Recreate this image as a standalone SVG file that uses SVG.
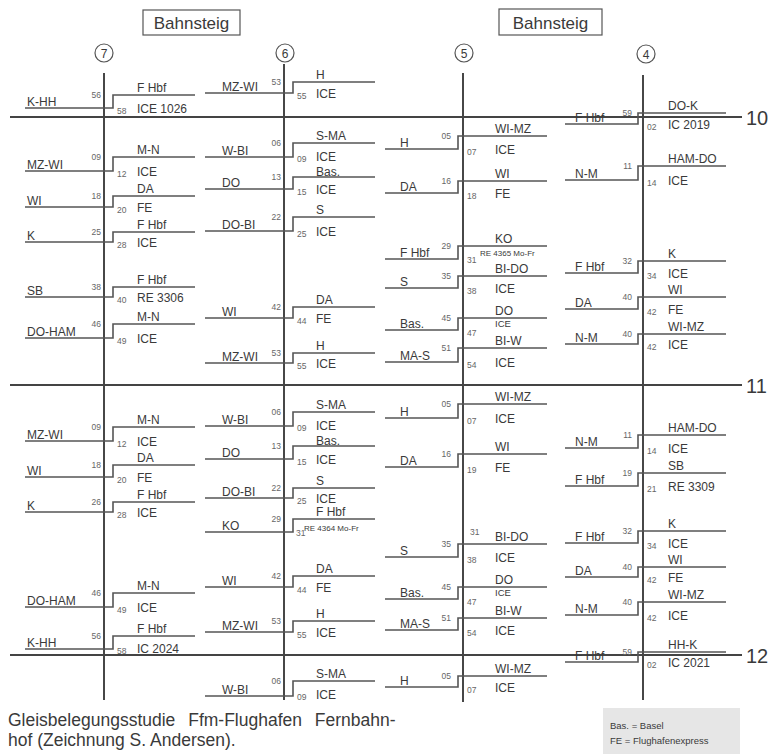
<svg xmlns="http://www.w3.org/2000/svg" width="771" height="756" viewBox="0 0 771 756">
<style>
.bg{fill:#fff}
.ln{fill:none;stroke:#555;stroke-width:1.6}
.tr{fill:none;stroke:#333;stroke-width:1.8}
.hr{fill:none;stroke:#444;stroke-width:2}
text{font-family:"Liberation Sans",Arial,sans-serif;fill:#3a3a3a}
.t{font-size:12px}
.m{font-size:8.5px;fill:#666}
.e{text-anchor:end}
.s{font-size:8px}
.si{font-size:9.5px}
.box{fill:none;stroke:#555;stroke-width:1.2}
.c{text-anchor:middle}
</style>
<rect class="bg" width="771" height="756"/>
<g id="headers">
<rect class="box" x="143" y="10" width="97" height="25"/>
<text x="191.5" y="29" class="c" font-size="17">Bahnsteig</text>
<rect class="box" x="499" y="9" width="103" height="26"/>
<text x="550.5" y="29" class="c" font-size="17">Bahnsteig</text>
</g>
<g id="tracks">
<circle class="box" cx="104" cy="53" r="9"/><text x="104" y="57.5" class="c" font-size="12">7</text>
<circle class="box" cx="285" cy="53" r="9"/><text x="285" y="57.5" class="c" font-size="12">6</text>
<circle class="box" cx="464" cy="53" r="9"/><text x="464" y="57.5" class="c" font-size="12">5</text>
<circle class="box" cx="646" cy="54" r="9"/><text x="646" y="58.5" class="c" font-size="12">4</text>
<line class="tr" x1="104" y1="73" x2="104" y2="700"/>
<line class="tr" x1="284" y1="64" x2="284" y2="700"/>
<line class="tr" x1="463" y1="73" x2="463" y2="702"/>
<line class="tr" x1="643" y1="75" x2="643" y2="700"/>
</g>
<g id="hours">
<line class="hr" x1="10" y1="117" x2="742" y2="117"/><text x="746" y="125" font-size="20">10</text>
<line class="hr" x1="10" y1="385" x2="742" y2="385"/><text x="746" y="393" font-size="20">11</text>
<line class="hr" x1="10" y1="655" x2="742" y2="655"/><text x="746" y="663" font-size="20">12</text>
</g>
<g id="connectors">
<path class="ln" d="M25 108H113V95H195M25 171H113V157H195M25 207H113V196H195M25 242H113V232H195M25 297H113V287H195M25 338H113V324H195M25 441H113V427H195M25 477H113V465H195M25 512H113V502H195M25 607H113V593H195M25 649H113V636H195"/>
<path class="ln" d="M205 93H293V82H375M205 157H293V143H375M205 189H293V177H375M205 231H293V217H375M205 318H293V307H375M205 363H293V353H375M205 426H293V412H375M205 459H293V446H375M205 498H293V488H375M205 532H293V519H375M205 587H293V576H375M205 632H293V621H375M205 696H293V681H375"/>
<path class="ln" d="M385 149H458V136H547M385 193H458V181H547M385 259H458V246H547M385 288H458V276H547M385 330H458V318H547M385 362H458V348H547M385 418H458V404H547M385 467H458V454H547M385 557H458V544H547M385 599H458V587H547M385 630H458V618H547M385 687H458V676H547"/>
<path class="ln" d="M565 124H638V113H726M565 180H638V166H726M565 273H638V261H726M565 309H638V297H726M565 344H638V334H726M565 448H638V435H726M565 486H638V473H726M565 543H638V531H726M565 577H638V567H726M565 615H638V602H726M565 662H638V652H726"/>
</g>
<g id="p7-1056"><text class="t" x="27" y="106">K-HH</text><text class="m e" x="101" y="98">56</text><text class="m" x="117" y="114">58</text><text class="t" x="137" y="92">F Hbf</text><text class="t" x="137" y="113">ICE 1026</text></g>
<g id="p7-1109"><text class="t" x="27" y="169">MZ-WI</text><text class="m e" x="101" y="160">09</text><text class="m" x="117" y="177">12</text><text class="t" x="137" y="154">M-N</text><text class="t" x="137" y="176">ICE</text></g>
<g id="p7-1118"><text class="t" x="27" y="205">WI</text><text class="m e" x="101" y="199">18</text><text class="m" x="117" y="213">20</text><text class="t" x="137" y="193">DA</text><text class="t" x="137" y="212">FE</text></g>
<g id="p7-1125"><text class="t" x="27" y="240">K</text><text class="m e" x="101" y="235">25</text><text class="m" x="117" y="248">28</text><text class="t" x="137" y="229">F Hbf</text><text class="t" x="137" y="247">ICE</text></g>
<g id="p7-1138"><text class="t" x="27" y="295">SB</text><text class="m e" x="101" y="290">38</text><text class="m" x="117" y="303">40</text><text class="t" x="137" y="284">F Hbf</text><text class="t" x="137" y="302">RE 3306</text></g>
<g id="p7-1146"><text class="t" x="27" y="336">DO-HAM</text><text class="m e" x="101" y="327">46</text><text class="m" x="117" y="344">49</text><text class="t" x="137" y="321">M-N</text><text class="t" x="137" y="343">ICE</text></g>
<g id="p7-1209"><text class="t" x="27" y="439">MZ-WI</text><text class="m e" x="101" y="430">09</text><text class="m" x="117" y="447">12</text><text class="t" x="137" y="424">M-N</text><text class="t" x="137" y="446">ICE</text></g>
<g id="p7-1218"><text class="t" x="27" y="475">WI</text><text class="m e" x="101" y="468">18</text><text class="m" x="117" y="483">20</text><text class="t" x="137" y="462">DA</text><text class="t" x="137" y="482">FE</text></g>
<g id="p7-1226"><text class="t" x="27" y="510">K</text><text class="m e" x="101" y="505">26</text><text class="m" x="117" y="518">28</text><text class="t" x="137" y="499">F Hbf</text><text class="t" x="137" y="517">ICE</text></g>
<g id="p7-1246"><text class="t" x="27" y="605">DO-HAM</text><text class="m e" x="101" y="596">46</text><text class="m" x="117" y="613">49</text><text class="t" x="137" y="590">M-N</text><text class="t" x="137" y="612">ICE</text></g>
<g id="p7-1256"><text class="t" x="27" y="647">K-HH</text><text class="m e" x="101" y="639">56</text><text class="m" x="117" y="654">58</text><text class="t" x="137" y="633">F Hbf</text><text class="t" x="137" y="653">IC 2024</text></g>
<g id="p6-1053"><text class="t" x="222" y="91">MZ-WI</text><text class="m e" x="281" y="85">53</text><text class="m" x="297" y="99">55</text><text class="t" x="316" y="79">H</text><text class="t" x="316" y="98">ICE</text></g>
<g id="p6-1106"><text class="t" x="222" y="155">W-BI</text><text class="m e" x="281" y="146">06</text><text class="m" x="297" y="162">09</text><text class="t" x="316" y="140">S-MA</text><text class="t" x="316" y="160.5">ICE</text></g>
<g id="p6-1113"><text class="t" x="222" y="187">DO</text><text class="m e" x="281" y="180">13</text><text class="m" x="297" y="195">15</text><text class="t" x="316" y="175.5">Bas.</text><text class="t" x="316" y="194">ICE</text></g>
<g id="p6-1122"><text class="t" x="222" y="229">DO-BI</text><text class="m e" x="281" y="220">22</text><text class="m" x="297" y="237">25</text><text class="t" x="316" y="214">S</text><text class="t" x="316" y="236">ICE</text></g>
<g id="p6-1142"><text class="t" x="222" y="316">WI</text><text class="m e" x="281" y="310">42</text><text class="m" x="297" y="324">44</text><text class="t" x="316" y="304">DA</text><text class="t" x="316" y="323">FE</text></g>
<g id="p6-1153"><text class="t" x="222" y="361">MZ-WI</text><text class="m e" x="281" y="356">53</text><text class="m" x="297" y="369">55</text><text class="t" x="316" y="350">H</text><text class="t" x="316" y="368">ICE</text></g>
<g id="p6-1206"><text class="t" x="222" y="424">W-BI</text><text class="m e" x="281" y="415">06</text><text class="m" x="297" y="431">09</text><text class="t" x="316" y="409">S-MA</text><text class="t" x="316" y="429.5">ICE</text></g>
<g id="p6-1213"><text class="t" x="222" y="457">DO</text><text class="m e" x="281" y="449">13</text><text class="m" x="297" y="465">15</text><text class="t" x="316" y="444.5">Bas.</text><text class="t" x="316" y="464">ICE</text></g>
<g id="p6-1222"><text class="t" x="222" y="496">DO-BI</text><text class="m e" x="281" y="491">22</text><text class="m" x="297" y="504">25</text><text class="t" x="316" y="485">S</text><text class="t" x="316" y="503">ICE</text></g>
<g id="p6-1229"><text class="t" x="222" y="530">KO</text><text class="m e" x="281" y="522">29</text><text class="m" x="296" y="536">31</text><text class="t" x="316" y="516">F Hbf</text><text class="s" x="304" y="531">RE 4364 Mo-Fr</text></g>
<g id="p6-1242"><text class="t" x="222" y="585">WI</text><text class="m e" x="281" y="579">42</text><text class="m" x="297" y="593">44</text><text class="t" x="316" y="573">DA</text><text class="t" x="316" y="592">FE</text></g>
<g id="p6-1253"><text class="t" x="222" y="630">MZ-WI</text><text class="m e" x="281" y="624">53</text><text class="m" x="297" y="638">55</text><text class="t" x="316" y="618">H</text><text class="t" x="316" y="637">ICE</text></g>
<g id="p6-1306"><text class="t" x="222" y="694">W-BI</text><text class="m e" x="281" y="684">06</text><text class="m" x="297" y="700">09</text><text class="t" x="316" y="678">S-MA</text><text class="t" x="316" y="699">ICE</text></g>
<g id="p5-1105"><text class="t" x="400" y="147">H</text><text class="m e" x="451" y="139">05</text><text class="m" x="467" y="155">07</text><text class="t" x="495" y="133">WI-MZ</text><text class="t" x="495" y="154">ICE</text></g>
<g id="p5-1116"><text class="t" x="400" y="191">DA</text><text class="m e" x="451" y="184">16</text><text class="m" x="467" y="199">18</text><text class="t" x="495" y="178">WI</text><text class="t" x="495" y="198">FE</text></g>
<g id="p5-1129"><text class="t" x="400" y="257">F Hbf</text><text class="m e" x="451" y="249">29</text><text class="m" x="467" y="263">31</text><text class="t" x="495" y="243">KO</text><text class="s" x="480" y="256">RE 4365 Mo-Fr</text></g>
<g id="p5-1135"><text class="t" x="400" y="286">S</text><text class="m e" x="451" y="279">35</text><text class="m" x="467" y="294">38</text><text class="t" x="495" y="273">BI-DO</text><text class="t" x="495" y="293">ICE</text></g>
<g id="p5-1145"><text class="t" x="400" y="328">Bas.</text><text class="m e" x="451" y="321">45</text><text class="m" x="467" y="336">47</text><text class="t" x="495" y="315">DO</text><text class="si" x="495" y="327">ICE</text></g>
<g id="p5-1151"><text class="t" x="400" y="360">MA-S</text><text class="m e" x="451" y="351">51</text><text class="m" x="467" y="368">54</text><text class="t" x="495" y="345">BI-W</text><text class="t" x="495" y="367">ICE</text></g>
<g id="p5-1205"><text class="t" x="400" y="416">H</text><text class="m e" x="451" y="407">05</text><text class="m" x="467" y="424">07</text><text class="t" x="495" y="401">WI-MZ</text><text class="t" x="495" y="423">ICE</text></g>
<g id="p5-1216"><text class="t" x="400" y="465">DA</text><text class="m e" x="451" y="457">16</text><text class="m" x="467" y="473">19</text><text class="t" x="495" y="451">WI</text><text class="t" x="495" y="472">FE</text></g>
<g id="p5-1235"><text class="m" x="470" y="535">31</text><text class="t" x="400" y="555">S</text><text class="m e" x="451" y="547">35</text><text class="m" x="467" y="563">38</text><text class="t" x="495" y="541">BI-DO</text><text class="t" x="495" y="562">ICE</text></g>
<g id="p5-1245"><text class="t" x="400" y="597">Bas.</text><text class="m e" x="451" y="590">45</text><text class="m" x="467" y="605">47</text><text class="t" x="495" y="584">DO</text><text class="si" x="495" y="596">ICE</text></g>
<g id="p5-1251"><text class="t" x="400" y="628">MA-S</text><text class="m e" x="451" y="621">51</text><text class="m" x="467" y="636">54</text><text class="t" x="495" y="615">BI-W</text><text class="t" x="495" y="635">ICE</text></g>
<g id="p5-1305"><text class="t" x="400" y="685">H</text><text class="m e" x="451" y="679">05</text><text class="m" x="467" y="693">07</text><text class="t" x="495" y="673">WI-MZ</text><text class="t" x="495" y="692">ICE</text></g>
<g id="p4-1059"><text class="t" x="575" y="122">F Hbf</text><text class="m e" x="632" y="116">59</text><text class="m" x="647" y="130">02</text><text class="t" x="668" y="110">DO-K</text><text class="t" x="668" y="129">IC 2019</text></g>
<g id="p4-1111"><text class="t" x="575" y="178">N-M</text><text class="m e" x="632" y="169">11</text><text class="m" x="647" y="186">14</text><text class="t" x="668" y="163">HAM-DO</text><text class="t" x="668" y="185">ICE</text></g>
<g id="p4-1132"><text class="t" x="575" y="271">F Hbf</text><text class="m e" x="632" y="264">32</text><text class="m" x="647" y="279">34</text><text class="t" x="668" y="258">K</text><text class="t" x="668" y="278">ICE</text></g>
<g id="p4-1140a"><text class="t" x="575" y="307">DA</text><text class="m e" x="632" y="300">40</text><text class="m" x="647" y="315">42</text><text class="t" x="668" y="294">WI</text><text class="t" x="668" y="314">FE</text></g>
<g id="p4-1140b"><text class="t" x="575" y="342">N-M</text><text class="m e" x="632" y="337">40</text><text class="m" x="647" y="350">42</text><text class="t" x="668" y="331">WI-MZ</text><text class="t" x="668" y="349">ICE</text></g>
<g id="p4-1211"><text class="t" x="575" y="446">N-M</text><text class="m e" x="632" y="438">11</text><text class="m" x="647" y="454">14</text><text class="t" x="668" y="432">HAM-DO</text><text class="t" x="668" y="453">ICE</text></g>
<g id="p4-1219"><text class="t" x="575" y="484">F Hbf</text><text class="m e" x="632" y="476">19</text><text class="m" x="647" y="492">21</text><text class="t" x="668" y="470">SB</text><text class="t" x="668" y="491">RE 3309</text></g>
<g id="p4-1232"><text class="t" x="575" y="541">F Hbf</text><text class="m e" x="632" y="534">32</text><text class="m" x="647" y="549">34</text><text class="t" x="668" y="528">K</text><text class="t" x="668" y="548">ICE</text></g>
<g id="p4-1240a"><text class="t" x="575" y="575">DA</text><text class="m e" x="632" y="570">40</text><text class="m" x="647" y="583">42</text><text class="t" x="668" y="564">WI</text><text class="t" x="668" y="582">FE</text></g>
<g id="p4-1240b"><text class="t" x="575" y="613">N-M</text><text class="m e" x="632" y="605">40</text><text class="m" x="647" y="621">42</text><text class="t" x="668" y="599">WI-MZ</text><text class="t" x="668" y="620">ICE</text></g>
<g id="p4-1259"><text class="t" x="575" y="660">F Hbf</text><text class="m e" x="632" y="655">59</text><text class="m" x="647" y="668">02</text><text class="t" x="668" y="649">HH-K</text><text class="t" x="668" y="667">IC 2021</text></g>
<g id="caption">
<text x="8" y="726" font-size="17.5" word-spacing="8">Gleisbelegungsstudie Ffm-Flughafen Fernbahn-</text>
<text x="8" y="746" font-size="17.5">hof (Zeichnung S. Andersen).</text>
</g>
<g id="legend">
<rect x="603" y="708" width="137" height="46" fill="#e6e6e6"/>
<text x="610" y="729" font-size="9.5" fill="#666">Bas. = Basel</text>
<text x="610" y="744" font-size="9.5" fill="#666">FE  = Flughafenexpress</text>
</g>
</svg>
